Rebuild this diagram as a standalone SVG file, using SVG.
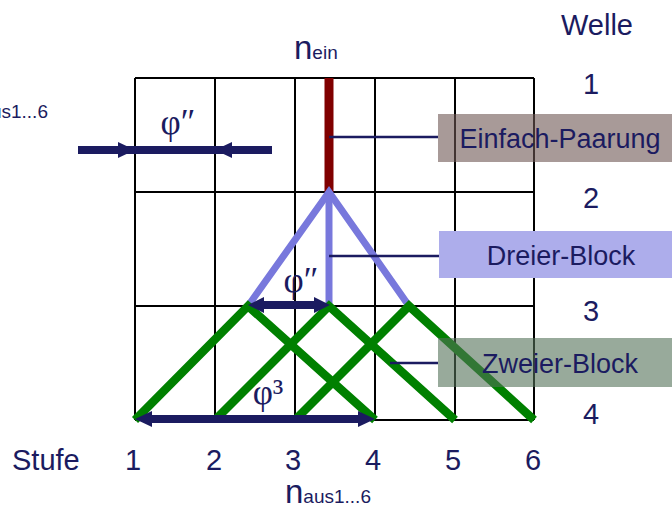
<svg xmlns="http://www.w3.org/2000/svg" width="672" height="509" viewBox="0 0 672 509">
<style>
.t{font-family:"Liberation Sans",Arial,sans-serif;fill:#1B1B60}
.num{font-size:29px;text-anchor:middle}
.lbl{font-size:27px;text-anchor:middle}
.gr{font-family:"Liberation Serif","Times New Roman",serif;fill:#1B1B60;font-size:35px;text-anchor:middle}
.grid{stroke:#000;stroke-width:2;fill:none}
.conn{stroke:#1B1B60;stroke-width:2.5;fill:none}
.arr{stroke:#1B1B60;stroke-width:8;fill:none}
.head{fill:#1B1B60}
.green{stroke:#008000;stroke-width:8.5;fill:none;stroke-linejoin:miter}
.blue{stroke:#7878DC;stroke-width:7;fill:none;stroke-linejoin:miter}
.red{stroke:#800000;stroke-width:9}
.big{font-size:33px}
.sub{font-size:19px}
</style>
<rect width="672" height="509" fill="#fff"/>
<g id="grid" class="grid">
<path d="M135,78V420M215,78V420M295,78V420M375,78V420M455,78V420M534,78V420"/>
<path d="M135,78H534M135,192H534M135,306H534M135,420H534"/>
</g>
<g id="einfach-paarung-line"><line class="red" x1="329" y1="78" x2="329" y2="192"/></g>
<g id="dreier-block-lines">
<polyline class="blue" points="248,306 329,192 409,306"/>
<line class="blue" x1="329" y1="192" x2="329" y2="306"/>
</g>
<g id="zweier-block-lines">
<polyline class="green" points="135,420 248,306 375,420"/>
<polyline class="green" points="215,420 329,306 455,420"/>
<polyline class="green" points="295,420 409,306 534,420"/>
</g>
<g id="connectors">
<line class="conn" x1="329" y1="137" x2="438" y2="137"/>
<line class="conn" x1="329" y1="256" x2="439" y2="256"/>
<line class="conn" x1="390" y1="363" x2="438" y2="363"/>
</g>
<g id="box-einfach">
<rect x="438" y="114" width="240" height="48" fill="rgb(110,87,83)" fill-opacity="0.6"/>
<text class="t lbl" x="560" y="148">Einfach-Paarung</text>
</g>
<g id="box-dreier">
<rect x="439" y="231" width="240" height="47" fill="#ADADEB"/>
<text class="t lbl" x="561" y="265">Dreier-Block</text>
</g>
<g id="box-zweier">
<rect x="438" y="338" width="240" height="49" fill="rgb(83,113,88)" fill-opacity="0.6"/>
<text class="t lbl" x="560" y="373">Zweier-Block</text>
</g>
<g id="arrow-top">
<line class="arr" x1="78" y1="150" x2="272" y2="150"/>
<polygon class="head" points="118,142 135,150 118,158"/>
<polygon class="head" points="232,142 215,150 232,158"/>
<text class="gr" x="178" y="134">φ″</text>
</g>
<g id="arrow-mid">
<line class="arr" x1="262" y1="305" x2="316" y2="305"/>
<polygon class="head" points="264,297 248,305 264,313"/>
<polygon class="head" points="314,297 330,305 314,313"/>
<text class="gr" x="301" y="292">φ″</text>
</g>
<g id="arrow-bottom">
<line class="arr" x1="150" y1="419" x2="360" y2="419"/>
<polygon class="head" points="152,411 135,419 152,427"/>
<polygon class="head" points="358,411 375,419 358,427"/>
<text class="gr" x="268" y="404">φ³</text>
</g>
<g id="labels">
<text class="t" x="294" y="59"><tspan class="big">n</tspan><tspan class="sub">ein</tspan></text>
<text class="t" x="-38" y="118"><tspan class="big">n</tspan><tspan class="sub">aus1...6</tspan></text>
<text class="t" x="285" y="503"><tspan class="big">n</tspan><tspan class="sub">aus1...6</tspan></text>
<text class="t" x="12" y="470" style="font-size:29px">Stufe</text>
<text class="t" x="597" y="35" style="font-size:29px;text-anchor:middle">Welle</text>
<text class="t num" x="591" y="94">1</text>
<text class="t num" x="591" y="208">2</text>
<text class="t num" x="591" y="321">3</text>
<text class="t num" x="591" y="424">4</text>
<text class="t num" x="133" y="470">1</text>
<text class="t num" x="214" y="470">2</text>
<text class="t num" x="293" y="470">3</text>
<text class="t num" x="373" y="470">4</text>
<text class="t num" x="453" y="470">5</text>
<text class="t num" x="533" y="470">6</text>
</g>
</svg>
